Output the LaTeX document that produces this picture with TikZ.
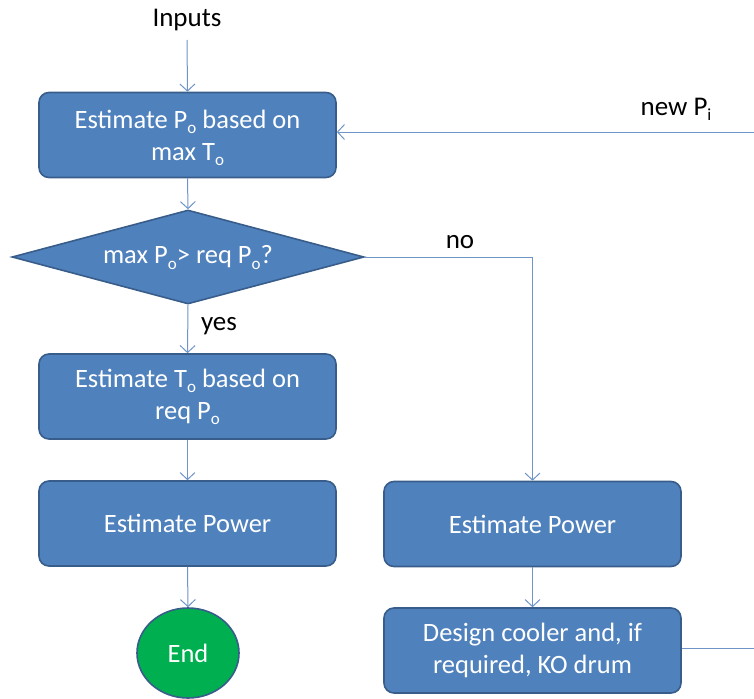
\documentclass[tikz,border=0pt]{standalone}
\usepackage{fontspec}
\setmainfont{Carlito}
\usetikzlibrary{shapes.geometric,arrows.meta}
\definecolor{boxfill}{HTML}{4F81BD}
\definecolor{boxline}{HTML}{385D8A}
\definecolor{conn}{HTML}{6F94C8}
\definecolor{endfill}{HTML}{00B050}
\newcommand{\mysub}[1]{\smash{\raisebox{-0.2em}{\fontsize{17}{17}\selectfont #1}}}
\newcommand{\sbo}{\mysub{o}}
\begin{document}
\begin{tikzpicture}[x=1pt,y=-1pt,
  procbox/.style={draw=boxline, line width=1.6pt, fill=boxfill, rounded corners=10pt,
    minimum width=297pt, minimum height=85pt, text=white, align=center,
    font=\fontsize{26.5}{32}\selectfont, inner sep=0pt},
  decbox/.style={draw=boxline, line width=1.6pt, fill=boxfill, diamond, aspect=3.74,
    minimum width=352pt, minimum height=94pt, text=white, inner sep=0pt,
    font=\fontsize{26.5}{32}\selectfont},
  endbox/.style={draw=boxline, line width=1.6pt, fill=endfill, ellipse,
    minimum width=102pt, minimum height=90pt, text=white, inner sep=0pt,
    font=\fontsize{26.5}{32}\selectfont},
  lbl/.style={font=\fontsize{27}{32}\selectfont, inner sep=0pt},
  conline/.style={draw=conn, line width=1pt},
  conarrow/.style={conline, -{Straight Barb[length=7pt,width=15pt,line width=1pt]}}
]
\useasboundingbox (0,0) rectangle (754,698);
\node[lbl] (inputs) at (187,20) {Inputs};
\coordinate (intop) at (187,40);
\node[procbox] (b1) at (187.5,135) {Estimate P\sbo{} based on\\max T\sbo};
\node[decbox] (dec) at (188,257) {max P\sbo{}> req P\sbo?};
\node[procbox] (b3) at (187.5,396.5) {Estimate T\sbo{} based on\\req P\sbo};
\node[procbox] (b4) at (187.5,523.5) {Estimate Power};
\node[endbox] (end) at (188,653) {End};
\node[procbox] (b5) at (532.5,524) {Estimate Power};
\node[procbox] (b6) at (532.5,650.5) {Design cooler and, if\\required, KO drum};
\node[lbl] (no) at (460,242) {no};
\node[lbl] (yes) at (219,326) {yes};
\node[lbl] (newp) at (676,107) {new P\mysub{i}};
\coordinate (fbr) at (770,648);
\coordinate (fbt) at (770,132);

\draw[conarrow] (intop) -- (b1.north);
\draw[conarrow] (b1.south) -- (dec.north);
\draw[conarrow] (dec.south) -- (b3.north);
\draw[conarrow] (b3.south) -- (b4.north);
\draw[conarrow] (b4.south) -- (end.north);
\draw[conarrow] (dec.east) -| (b5.north);
\draw[conarrow] (b5.south) -- (b6.north);
\draw[conline] (b6.east |- fbr) -- (fbr) -- (fbt);
\draw[conarrow] (fbt) -- (b1.east |- fbt);
\end{tikzpicture}
\end{document}
